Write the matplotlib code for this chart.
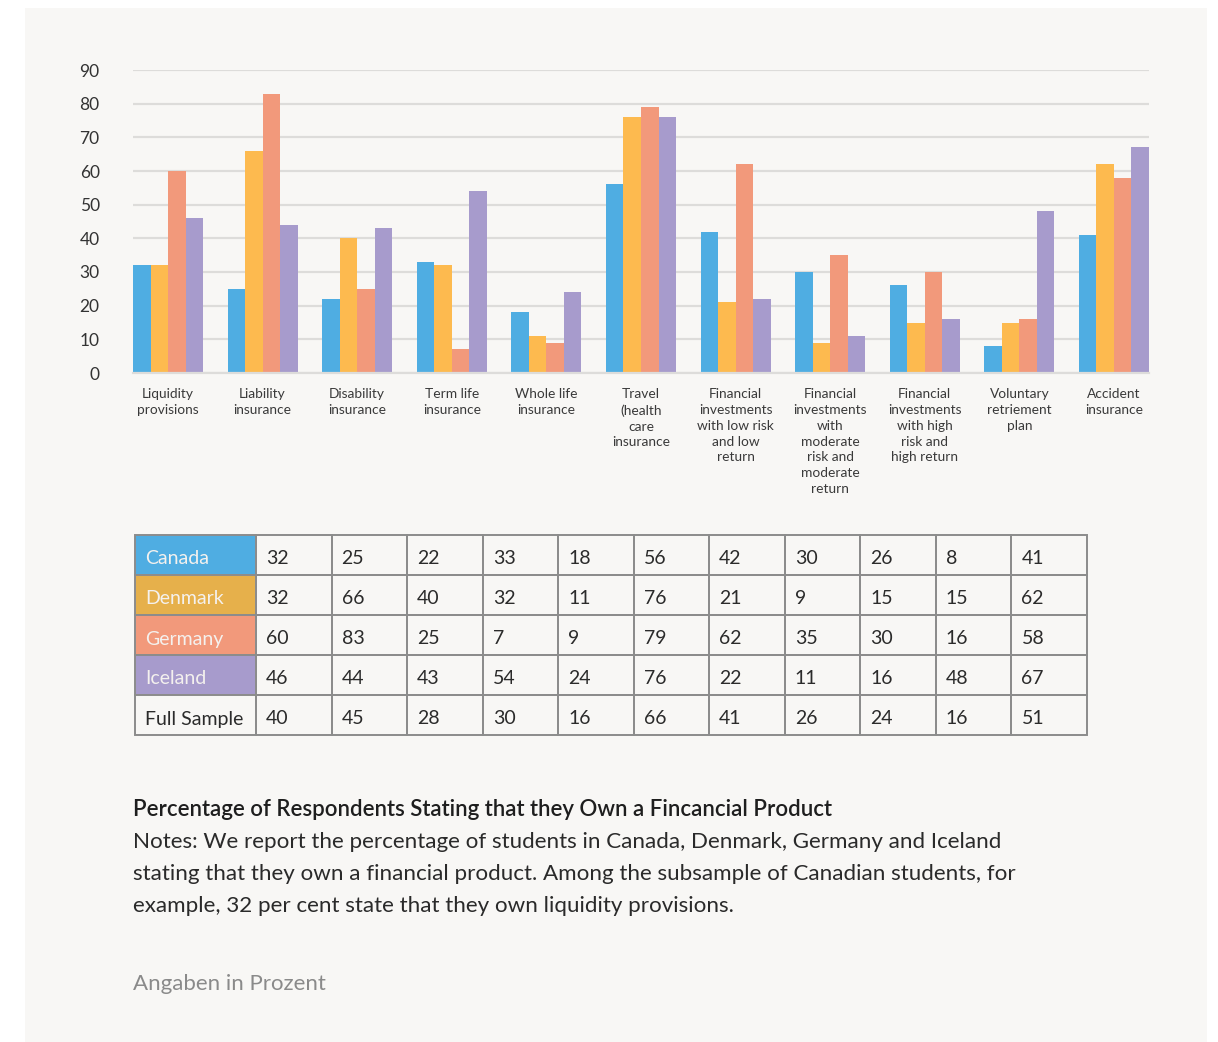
"""Grouped bar chart + data table: ownership of financial products."""
import matplotlib
matplotlib.use("Agg")
import matplotlib.pyplot as plt
import matplotlib.patches as mpatches
import numpy as np

plt.rcParams['font.family'] = ['Lato', 'DejaVu Sans']

categories = [
    "Liquidity\nprovisions", "Liability\ninsurance", "Disability\ninsurance",
    "Term life\ninsurance", "Whole life\ninsurance",
    "Travel\n(health\ncare\ninsurance",
    "Financial\ninvestments\nwith low risk\nand low\nreturn",
    "Financial\ninvestments\nwith\nmoderate\nrisk and\nmoderate\nreturn",
    "Financial\ninvestments\nwith high\nrisk and\nhigh return",
    "Voluntary\nretriement\nplan", "Accident\ninsurance",
]
countries = ["Canada", "Denmark", "Germany", "Iceland"]
canada  = [32, 25, 22, 33, 18, 56, 42, 30, 26, 8, 41]
denmark = [32, 66, 40, 32, 11, 76, 21, 9, 15, 15, 62]
germany = [60, 83, 25, 7, 9, 79, 62, 35, 30, 16, 58]
iceland = [46, 44, 43, 54, 24, 76, 22, 11, 16, 48, 67]
full_sample = [40, 45, 28, 30, 16, 66, 41, 26, 24, 16, 51]

bar_colors   = ['#4fade2', '#fdba4f', '#f2997b', '#a79bcc']
table_colors = ['#4fade2', '#e6b04b', '#f2997b', '#a79bcc']
BG = '#f8f7f5'
GRID = '#dddcda'
TXT = '#2b2b2b'

W, H = 1218, 1042
fig = plt.figure(figsize=(W / 100, H / 100), dpi=100, facecolor='white')


def px_axes(x0, y0, x1, y1, **kw):
    return fig.add_axes([x0 / W, 1 - y1 / H, (x1 - x0) / W, (y1 - y0) / H], **kw)


# light panel behind everything
bg = px_axes(25, 8, 1207, 1042, zorder=-5)
bg.set_facecolor(BG)
bg.set_xticks([])
bg.set_yticks([])
for s in bg.spines.values():
    s.set_visible(False)

# ---- bar chart ----
ax = px_axes(133, 70, 1149, 373)
ax.set_facecolor('none')
series = [canada, denmark, germany, iceland]
x = np.arange(len(categories))
bw = 0.185
for i, (vals, col) in enumerate(zip(series, bar_colors)):
    ax.bar(x + (i - 1.5) * bw, vals, width=bw, color=col, zorder=2)

ax.set_xlim(-0.37, len(categories) - 1 + 0.37)
ax.set_ylim(0, 90)
ax.set_yticks(range(0, 91, 10))
ax.yaxis.grid(True, color=GRID, linewidth=1.6, zorder=0)
ax.set_axisbelow(True)
for s in ['top', 'right', 'left']:
    ax.spines[s].set_visible(False)
ax.spines['bottom'].set_color(GRID)
ax.spines['bottom'].set_linewidth(1.6)
ax.tick_params(axis='y', length=0, pad=24, labelsize=12.5, labelcolor='#333333')
ax.tick_params(axis='x', length=0)
ax.set_xticks([])
for xi, lab in zip(x, categories):
    ax.annotate(lab, (xi, 0), xytext=(0, -11), textcoords='offset points',
                ha='center', va='top', fontsize=9.9, color='#3a3a3a',
                linespacing=1.38, annotation_clip=False)

# ---- table ----
tax = px_axes(135, 535, 1087, 735)
tax.set_facecolor('none')
col_w = [121] + [(1087 - 135 - 121) / 11] * 11
col_x = np.concatenate([[0], np.cumsum(col_w)])
row_labels = countries + ["Full Sample"]
rows = series + [full_sample]
tax.set_xlim(0, col_x[-1])
tax.set_ylim(len(rows), 0)
tax.axis('off')
for r, (lab, vals) in enumerate(zip(row_labels, rows)):
    fc = table_colors[r] if r < len(countries) else BG
    tc = '#f4f1ee' if r < len(countries) else TXT
    tax.add_patch(mpatches.Rectangle((col_x[0], r), col_w[0], 1, facecolor=fc,
                                     edgecolor='#8c8c8c', linewidth=1.4,
                                     clip_on=False))
    tax.text(col_x[0] + 10, r + 0.6, lab, ha='left', va='center',
             fontsize=14, color=tc)
    for c, v in enumerate(vals):
        tax.add_patch(mpatches.Rectangle((col_x[c + 1], r), col_w[c + 1], 1,
                                         facecolor='none', edgecolor='#8c8c8c',
                                         linewidth=1.4, clip_on=False))
        tax.text(col_x[c + 1] + 10, r + 0.6, str(v), ha='left', va='center',
                 fontsize=14, color=TXT)

# ---- caption ----
fig.text(133 / W, 1 - 810 / H,
         "Percentage of Respondents Stating that they Own a Fincancial Product",
         ha='left', va='center', fontsize=16, fontweight='semibold', color='#1e1e1e')
notes = ["Notes: We report the percentage of students in Canada, Denmark, Germany and Iceland",
         "stating that they own a financial product. Among the subsample of Canadian students, for",
         "example, 32 per cent state that they own liquidity provisions."]
for k, line in enumerate(notes):
    fig.text(133 / W, 1 - (842 + 32 * k) / H, line, ha='left', va='center',
             fontsize=16.1, color='#2a2a2a')
fig.text(133 / W, 1 - 984 / H, "Angaben in Prozent", ha='left', va='center',
         fontsize=16, color='#8a8a8a')

fig.savefig('out.png', dpi=100, facecolor='white')
plt.close(fig)
